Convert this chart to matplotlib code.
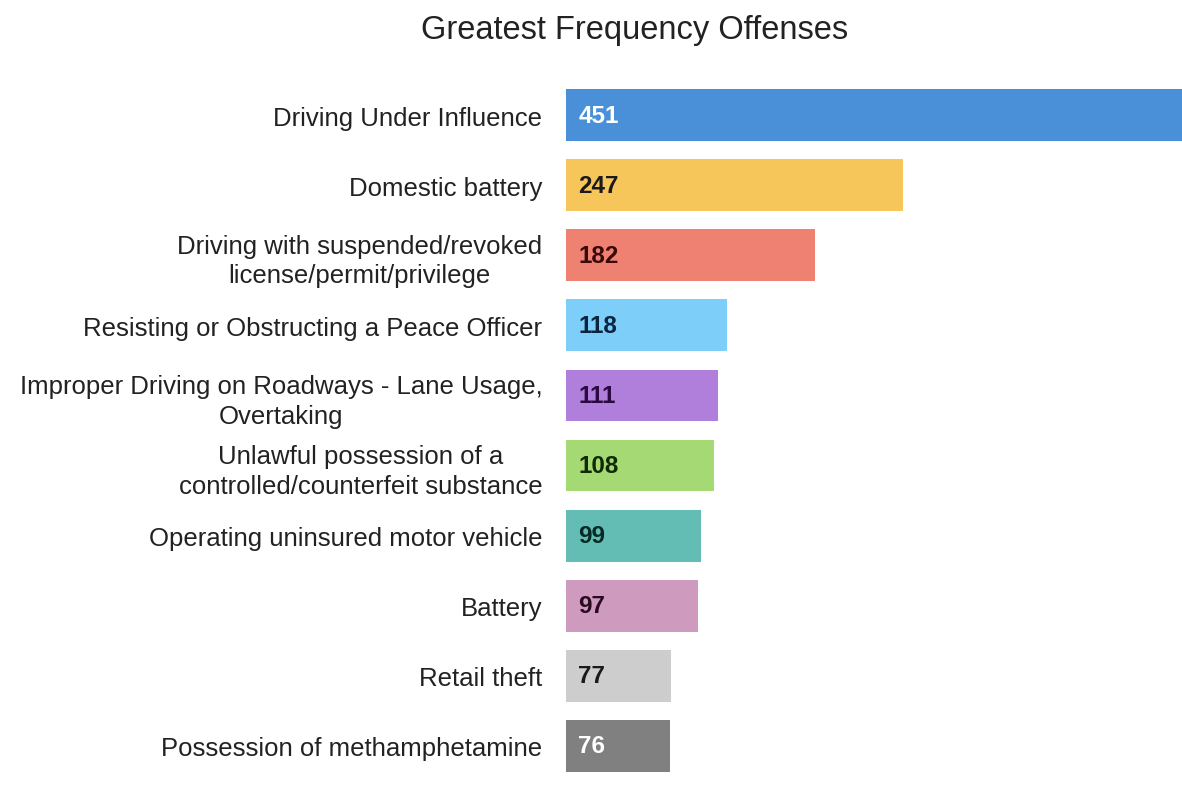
import matplotlib
matplotlib.use("Agg")
import matplotlib.pyplot as plt

categories = [
    "Driving Under Influence",
    "Domestic battery",
    "Driving with suspended/revoked\nlicense/permit/privilege",
    "Resisting or Obstructing a Peace Officer",
    "Improper Driving on Roadways - Lane Usage,\nOvertaking",
    "Unlawful possession of a\ncontrolled/counterfeit substance",
    "Operating uninsured motor vehicle",
    "Battery",
    "Retail theft",
    "Possession of methamphetamine",
]
values = [451, 247, 182, 118, 111, 108, 99, 97, 77, 76]
colors = ["#4A90D9", "#F7C65A", "#EF8172", "#7DCFFA", "#B07FDC",
          "#A5D974", "#64BDB5", "#CE9BBF", "#CDCDCD", "#808080"]
label_colors = ["white", "#1a1a1a", "#3a0a0a", "#0a2540", "#2a0a40",
                "#102a05", "#062a26", "#2a0a20", "#1a1a1a", "white"]
title = "Greatest Frequency Offenses"

plt.rcParams["font.family"] = ["Liberation Sans", "DejaVu Sans"]
fig = plt.figure(figsize=(11.82, 8.04), dpi=100)
ax = fig.add_axes([566/1182, 1-782/804, 1-566/1182, (782-81)/804])
y = list(range(len(categories)))
ax.barh(y, values, height=0.74, color=colors)
ax.set_xlim(0, 451)
ax.set_ylim(9.5, -0.5)
ax.set_yticks(y)
ax.set_yticklabels(categories, fontsize=18.5, color="#222222",
                   linespacing=1.3, multialignment="center")
ax.tick_params(axis="y", length=0, pad=17)
ax.set_xticks([])
for s in ax.spines.values():
    s.set_visible(False)
for yi, v, c in zip(y, values, label_colors):
    ax.text(9, yi, str(v), va="center", ha="left", fontsize=17.5,
            fontweight="bold", color=c)
fig.text(635/1182, 1-31/804, title, ha="center", va="center", fontsize=23.5, color="#222222")
fig.savefig("out.png", dpi=100)
